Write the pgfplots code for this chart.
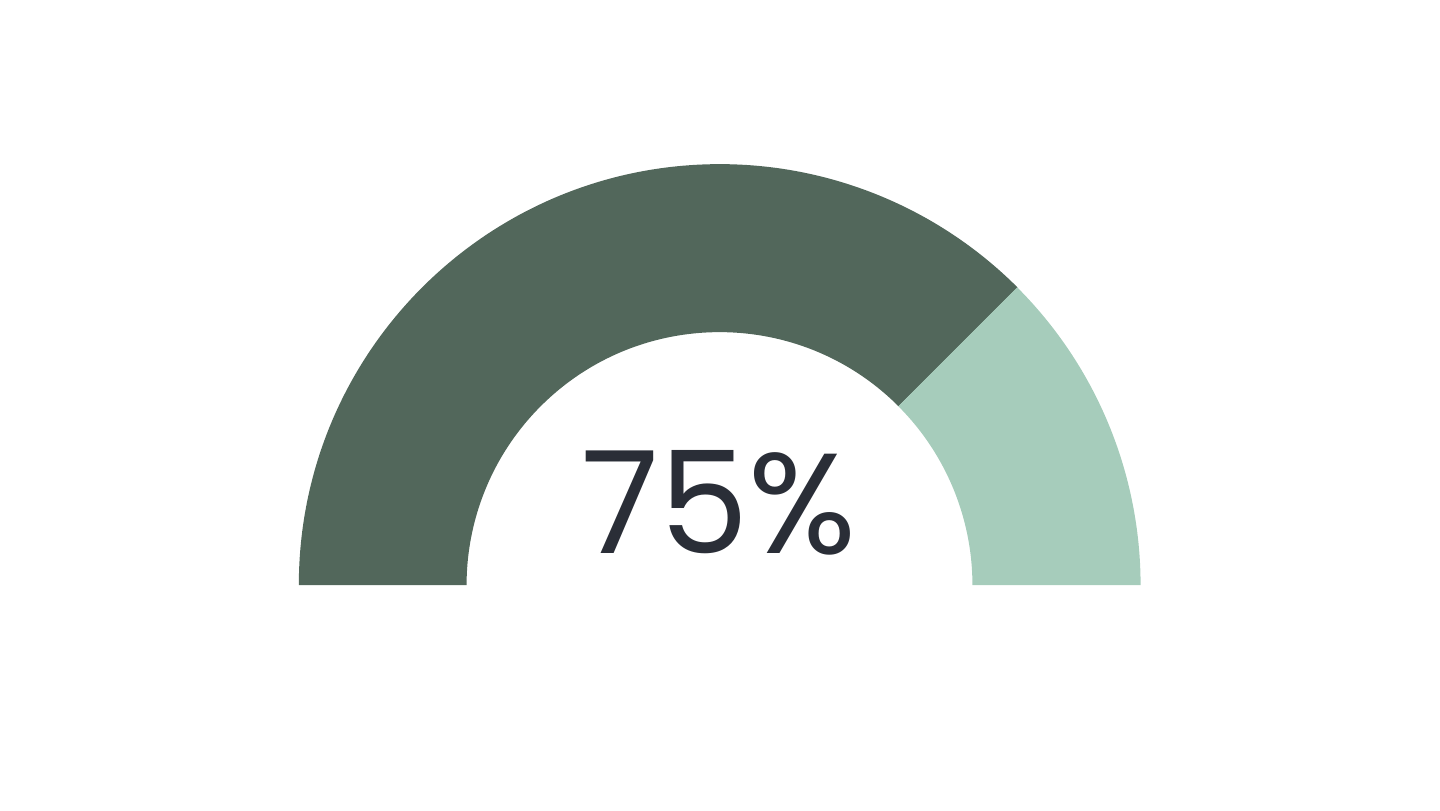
\documentclass[border=0pt]{standalone}
\usepackage{pgfplots}
\pgfplotsset{compat=1.18}
\usepackage{pgfplotstable}
\usepackage{fontspec}
\newfontfamily\gaugefont{Poppins}
\usetikzlibrary{calc}
\definecolor{gaugedark}{HTML}{52675B}
\definecolor{gaugelight}{HTML}{A6CCBB}
\definecolor{gaugetext}{HTML}{2A2E37}

% gauge value (percent)
\pgfplotstableread{
part value
done 75
}\gaugedata
\pgfplotstablegetelem{0}{value}\of\gaugedata
\let\gaugevalue\pgfplotsretval

\begin{document}
\begin{tikzpicture}
\pgfmathsetmacro{\cutangle}{180*(1-\gaugevalue/100)}
\begin{axis}[
    x=0.01cm, y=0.01cm,
    xmin=0, xmax=1440, ymin=0, ymax=810,
    hide axis,
    clip=false
]
% filled (dark) part
\fill[gaugedark] (axis cs:299,225)
    arc[start angle=180, end angle=\cutangle, radius=4.21cm]
    -- ([shift={(\cutangle:2.53cm)}]axis cs:720,225)
    arc[start angle=\cutangle, end angle=180, radius=2.53cm] -- cycle;
% remaining (light) part
\fill[gaugelight] ([shift={(\cutangle:4.21cm)}]axis cs:720,225)
    arc[start angle=\cutangle, end angle=0, radius=4.21cm]
    -- (axis cs:973,225)
    arc[start angle=0, end angle=\cutangle, radius=2.53cm] -- cycle;
\node[anchor=base, text=gaugetext, font=\gaugefont\fontsize{40.5}{40.5}\selectfont, inner sep=0pt]
    at (axis cs:719.5,257)
    {\pgfmathprintnumber[fixed,precision=0,assume math mode=true]{\gaugevalue}\%};
\end{axis}
\path (0,0) rectangle (14.4cm,8.1cm);
\end{tikzpicture}
\end{document}
